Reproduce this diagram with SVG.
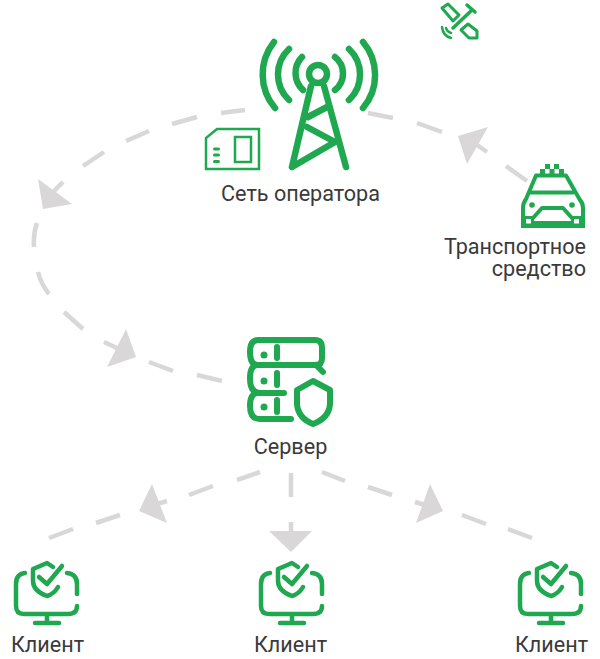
<svg xmlns="http://www.w3.org/2000/svg" width="600" height="659" viewBox="0 0 600 659">
<style>
text{font-family:Roboto,"Liberation Sans",sans-serif;font-size:21.600px;fill:#3a3a3a}
.d{fill:none;stroke:#d9d7d7;stroke-width:4.500}
.h{fill:#d9d7d7}
.g{fill:none;stroke:#1fa84f;stroke-linecap:round;stroke-linejoin:round}
.f{fill:#1fa84f}
</style>
<defs>
<g id="client-icon">
<path class="g" stroke-width="4.500" d="M25 573Q16 574 16 584V606Q16 614 24 614H68Q77 614 77 606M67 573Q77 574 77 584V594M47 615V623M35 623H59"/>
<path class="g" stroke-width="4.500" d="M53 567L47 563L33 569V581Q33 591 47 596Q54 594 58 587"/>
<path class="g" stroke-width="4.500" d="M39 577L47 584L62 566"/>
</g>
</defs>
<g id="connectors">
<path class="d" d="M245 110L221 113M197 117L172 124M149 131L126 141M104 152L83 166M63 182L53 192"/>
<path class="d" d="M37 223Q33 234 34 247M38 272Q41 284 49 294M64 312L83 329M104 342L117 348M149 362L173 371M197 375L222 381"/>
<path class="d" d="M368 113L393 118M417 123L442 132M477 145L487 152M506 166L527 181"/>
<path class="d" d="M260 472L237 480M213 486L189 495M167 501L157 504M120 515L96 523M73 529L49 538"/>
<path class="d" d="M291 473V497M291 522V532"/>
<path class="d" d="M322 472L345 481M368 487L392 495M415 502L425 505M462 515L486 524M508 529L532 538"/>
<polygon class="h" points="38,179 72,204 43,209"/>
<polygon class="h" points="126,329 136,357 107,367"/>
<polygon class="h" points="488,127 458,136 467,164"/>
<polygon class="h" points="152,484 139,511 167,523"/>
<polygon class="h" points="269,531 312,531 291,552"/>
<polygon class="h" points="430,484 443,511 416,523"/>
</g>
<g id="tower">
<g class="g" stroke-width="6.500">
<path d="M274 42A52 52 0 0 0 275 108M289 49A35 35 0 0 0 289 100M302 57A23 23 0 0 0 303 90"/>
<path d="M363 42A51 51 0 0 1 363 108M349 49A35 35 0 0 1 349 100M335 57A21 21 0 0 1 335 90"/>
<circle cx="318" cy="74" r="9"/>
<path d="M311 86L292 167M324 86L346 167M308 117L329 106M307 127L335 142L292 167"/>
</g>
<text x="300.500" y="201" text-anchor="middle">Сеть оператора</text>
</g>
<g id="sim">
<path fill="none" stroke="#1fa84f" stroke-width="2.500" d="M206 169V138L217 129H259V169Z"/>
<rect x="235" y="137" width="16" height="25" fill="none" stroke="#1fa84f" stroke-width="2.500"/>
<rect class="f" x="213" y="147.500" width="7" height="3" rx="1.500"/>
<rect class="f" x="213" y="153.500" width="7" height="3" rx="1.500"/>
<rect class="f" x="213" y="160" width="7" height="3" rx="1.500"/>
</g>
<g id="satellite">
<path class="g" stroke-width="3" d="M442 8L448 4L459 15L453 21ZM468 24L477 31V38H469L461 30Z"/>
<path class="g" stroke-width="3.500" d="M453 28L472 10M467 5L475 12"/>
<path class="g" stroke-width="2.500" d="M442 27Q443 36 451 38M446 28Q447 32 451 33"/>
</g>
<g id="vehicle">
<g class="f">
<rect x="545" y="164" width="5" height="5"/><rect x="554" y="164" width="5" height="5"/>
<rect x="540" y="169" width="5" height="5"/><rect x="549.500" y="169" width="5" height="5"/><rect x="559" y="169" width="5" height="5"/>
<circle cx="532" cy="205" r="2.800"/><circle cx="572" cy="205" r="2.800"/>
</g>
<path class="g" stroke-width="4" stroke-linecap="butt" d="M536 175.500H566L580 200Q583 203 583 208V225H523V208Q523 203 526 199ZM530 192.500H573M533 218L542 208H563L572 218"/>
<path class="f" d="M521 216H534V228H521ZM571 216H585V228H571ZM534 221H571V228H534Z"/>
<rect x="526" y="219" width="5" height="4.500" fill="#fff"/><rect x="574" y="219" width="5" height="4.500" fill="#fff"/>
<text x="586" y="253.500" text-anchor="end">Транспортное</text>
<text x="586" y="276" text-anchor="end">средство</text>
</g>
<g id="server">
<g class="g" stroke-width="6">
<path d="M258 365H316Q322 365 322 358V348Q322 340 315 340H258Q250 340 250 352Q250 365 258 365"/>
<path d="M258 365Q250 365 250 378Q250 393 260 393H284M316 365L323 372"/>
<path d="M258 393Q250 393 250 406Q250 419 260 419H291"/>
<path d="M277 347V358M277 373V385M277 400V412"/>
<path d="M313 381L297 390V404Q298 418 313 424Q329 418 330 404V390Z"/>
</g>
<g class="f"><circle cx="264" cy="355" r="3.500"/><circle cx="264" cy="381" r="3.500"/><circle cx="264" cy="407" r="3.500"/></g>
<text x="290.500" y="454" text-anchor="middle">Сервер</text>
</g>
<g id="client-1"><use href="#client-icon"/><text x="47.500" y="651.500" text-anchor="middle">Клиент</text></g>
<g id="client-2"><use href="#client-icon" x="245"/><text x="290.500" y="651.500" text-anchor="middle">Клиент</text></g>
<g id="client-3"><use href="#client-icon" x="504"/><text x="551.500" y="651.500" text-anchor="middle">Клиент</text></g>
</svg>
